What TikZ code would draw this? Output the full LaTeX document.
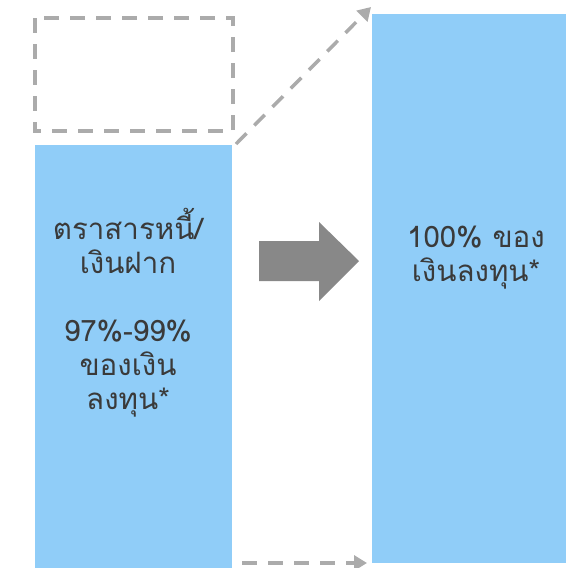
\documentclass[tikz,border=0pt]{standalone}
\usepackage{fontspec}
\newfontfamily\thaifont[Script=Thai]{Loma}
\usetikzlibrary{arrows.meta}
\definecolor{boxblue}{HTML}{90CDF8}
\definecolor{dashgray}{HTML}{ABABAB}
\definecolor{arrowgray}{HTML}{888888}
\definecolor{txt}{HTML}{3A3A3A}
\tikzset{
  bluebox/.style={fill=boxblue, draw=none},
  dashbox/.style={draw=dashgray, line width=3.5pt, dash pattern=on 15pt off 11pt},
  dasharrow/.style={draw=dashgray, line width=3.5pt, dash pattern=on 15pt off 11pt, -{Triangle[length=13pt,width=15pt]}},
  thaitext/.style={text=txt, font=\thaifont\fontsize{29.5}{34}\selectfont, align=center, inner sep=0pt},
}
\begin{document}
\begin{tikzpicture}[x=1pt,y=-1pt]
\useasboundingbox (0,0) rectangle (566,568);
\fill[bluebox] (35,145) rectangle (232,568);
\fill[bluebox] (372,14) rectangle (566,563);
\draw[dashbox] (35,18) rectangle (233,131);
\coordinate (a1) at (236,144);
\coordinate (a2) at (371,7);
\coordinate (b1) at (242,563);
\coordinate (b2) at (367,563);
\draw[dasharrow] (a1) -- (a2);
\draw[dasharrow] (b1) -- (b2);
\fill[arrowgray] (259,241) -- (319,241) -- (319,222) -- (359,261) -- (319,301) -- (319,281) -- (259,281) -- cycle;
\node[thaitext] (lt) at (128,313) {ตราสารหนี้/\\เงินฝาก\\[34pt]97\%-99\%\\ของเงิน\\ลงทุน*};
\node[thaitext] (rt) at (476,258) {100\% ของ\\เงินลงทุน*};
\end{tikzpicture}
\end{document}
